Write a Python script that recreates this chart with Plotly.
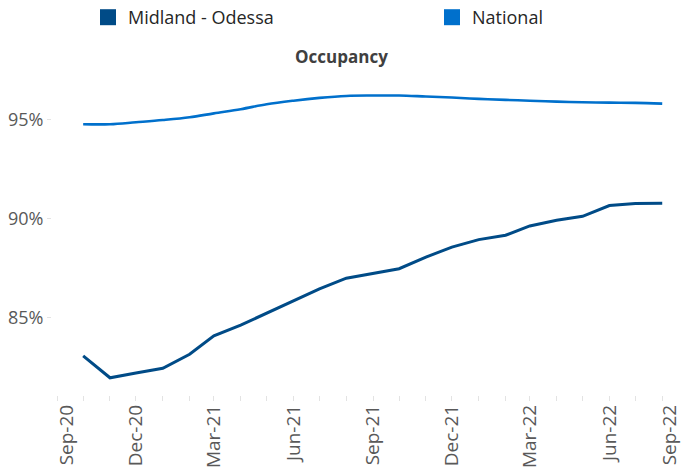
import plotly.graph_objects as go

months = ["2020-10-01", "2020-11-01", "2020-12-01", "2021-01-01", "2021-02-01", "2021-03-01",
          "2021-04-01", "2021-05-01", "2021-06-01", "2021-07-01", "2021-08-01", "2021-09-01",
          "2021-10-01", "2021-11-01", "2021-12-01", "2022-01-01", "2022-02-01", "2022-03-01",
          "2022-04-01", "2022-05-01", "2022-06-01", "2022-07-01", "2022-08-01"]

midland_odessa = [83.06, 81.95, 82.19, 82.43, 83.14, 84.07, 84.61, 85.22, 85.81, 86.44, 86.98, 87.23,
                  87.46, 88.05, 88.55, 88.93, 89.15, 89.62, 89.91, 90.11, 90.65, 90.76, 90.77]

national = [94.76, 94.76, 94.86, 94.97, 95.11, 95.31, 95.52, 95.77, 95.95, 96.09, 96.19, 96.21,
            96.21, 96.16, 96.11, 96.04, 95.99, 95.95, 95.90, 95.87, 95.85, 95.84, 95.80]

tick_dates = ["2020-09-12", "2020-12-01", "2021-03-01", "2021-06-01", "2021-09-01",
              "2021-12-01", "2022-03-01", "2022-06-01", "2022-08-10"]
tick_labels = ["Sep-20", "Dec-20", "Mar-21", "Jun-21", "Sep-21", "Dec-21", "Mar-22", "Jun-22", "Sep-22"]

y_ticks = [85, 90, 95]
y_labels = ["85%", "90%", "95%"]

c_mid = "#004B87"
c_nat = "#0070CC"

fig = go.Figure()
fig.add_trace(go.Scatter(x=months, y=national, mode="lines", line=dict(color=c_nat, width=2.6, shape="spline"),
                         showlegend=False, hoverinfo="skip"))
fig.add_trace(go.Scatter(x=months, y=midland_odessa, mode="lines", line=dict(color=c_mid, width=3),
                         showlegend=False, hoverinfo="skip"))
# legend entries (square swatches)
fig.add_trace(go.Scatter(x=[None], y=[None], mode="markers", name="Midland - Odessa", legend="legend",
                         marker=dict(symbol="square", size=16, color=c_mid)))
fig.add_trace(go.Scatter(x=[None], y=[None], mode="markers", name="National", legend="legend2",
                         marker=dict(symbol="square", size=16, color=c_nat)))

leg_common = dict(orientation="h", xref="container", yref="container", y=1 - 17.5 / 467,
                  xanchor="left", yanchor="middle", font=dict(size=18, color="#262626"),
                  bgcolor="rgba(0,0,0,0)")

fig.update_layout(
    width=683, height=467,
    margin=dict(l=52, r=0, t=70, b=72, autoexpand=False),
    paper_bgcolor="white", plot_bgcolor="white",
    font=dict(family="Open Sans", color="#595959"),
    title=dict(text="<b>Occupancy</b>", x=0.5, xref="container", xanchor="center",
               y=1 - 57 / 467, yref="container", yanchor="middle",
               font=dict(size=17, color="#404040")),
    legend=dict(x=88 / 683, **leg_common),
    legend2=dict(x=432 / 683, **leg_common),
    xaxis=dict(type="date", range=["2020-08-26", "2022-08-25"], showgrid=False, zeroline=False,
               showline=False, tickmode="array", tickvals=tick_dates, ticktext=tick_labels,
               tickangle=-90, ticks="", tickfont=dict(size=19, color="#595959"), automargin=False,
               ticklabelstandoff=5, ticklabeloverflow="allow",
               minor=dict(ticks="outside", dtick="M1", tick0="2020-09-01", ticklen=5,
                          tickcolor="#E3E3E3", tickwidth=1, showgrid=False)),
    yaxis=dict(range=[81.08, 97.5], showgrid=False, zeroline=False, showline=False, automargin=False,
               tickmode="array", tickvals=y_ticks, ticktext=y_labels, ticks="outside",
               ticklen=4, tickcolor="#E3E3E3", tickfont=dict(size=18, color="#595959")),
)

fig.write_html("out.html", config={"displayModeBar": False},
               post_script="document.body.style.margin='0px';")
